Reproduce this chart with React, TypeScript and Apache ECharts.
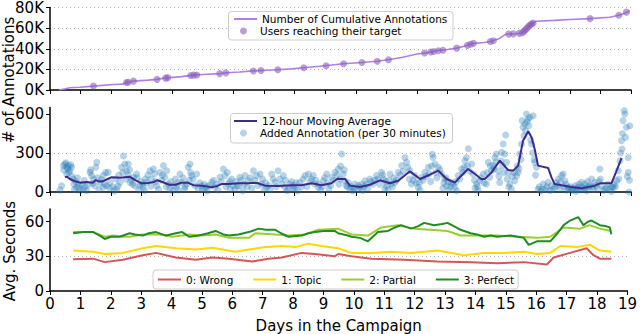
import React, { useEffect, useRef } from "react";
import * as echarts from "echarts";

const cumulativeAnnotations: number[][] = [
  [0.3, 0], [0.5, 1200], [0.65, 2200], [0.98, 2700], [1.42, 3800], [2.07, 5300], [2.4, 5700], [2.5, 7300],
  [2.73, 8600], [3.2, 9600], [3.49, 10300], [3.82, 11800], [4.3, 13000], [4.69, 14400], [5.0, 15000],
  [5.56, 15900], [5.78, 16800], [6.2, 17500], [6.65, 18500], [7.41, 19700], [7.9, 20500], [8.28, 21600],
  [8.83, 23100], [9.6, 25400], [10.2, 26700], [10.7, 27900], [11.1, 29500], [11.5, 31500], [12.0, 34900],
  [12.3, 36000], [12.65, 38000], [13.0, 39300], [13.3, 40600], [13.6, 43000], [13.8, 45000], [14.2, 46000],
  [14.4, 47000], [14.7, 50000], [14.9, 54000], [15.2, 54500], [15.4, 55000], [15.6, 60000], [15.8, 65000],
  [15.9, 66700], [16.5, 67500], [17.0, 68300], [17.66, 69200], [18.3, 70500], [18.6, 72400], [18.8, 74500],
  [18.96, 76800],
];

const usersReachingTarget: number[][] = [
  [1.42, 3800], [2.5, 7300], [2.56, 7600], [2.73, 8600], [3.5, 10300], [3.78, 11500], [3.85, 12000],
  [4.6, 14000], [4.7, 14400], [4.8, 14600], [5.55, 15900], [5.75, 16600], [6.65, 18500], [6.9, 18900],
  [7.45, 19700], [8.3, 21600], [9.03, 23600], [9.6, 25400], [10.2, 26700], [10.7, 27900], [11.07, 29300],
  [12.25, 35800], [12.45, 36800], [12.55, 37400], [12.7, 38100], [12.85, 38600], [13.3, 40600],
  [13.65, 43300], [13.75, 44300], [13.85, 45300], [14.4, 47000], [14.5, 47700], [15.0, 54200],
  [15.15, 54400], [15.35, 54900], [15.45, 55500], [15.5, 57000], [15.55, 58500], [15.6, 60000],
  [15.65, 61500], [15.7, 63000], [15.75, 64000], [15.8, 65000], [17.66, 69200], [18.6, 72400], [18.85, 75500],
];

const movingAverage: number[][] = [
  [0.49, 113], [0.55, 118], [0.65, 100], [0.82, 82], [0.98, 72], [1.2, 77], [1.4, 72], [1.5, 92], [1.6, 80],
  [1.72, 82], [1.88, 100], [2.0, 113], [2.3, 110], [2.6, 118], [2.8, 90], [3.0, 67], [3.2, 70], [3.4, 77],
  [3.5, 90], [3.7, 75], [3.9, 56], [4.1, 56], [4.3, 72], [4.5, 72], [4.7, 52], [4.96, 49], [5.29, 36],
  [5.45, 45], [5.61, 61], [5.83, 61], [6.16, 67], [6.49, 67], [6.65, 72], [6.81, 67], [7.03, 49], [7.46, 47],
  [7.9, 52], [8.22, 52], [8.55, 67], [8.88, 52], [9.2, 67], [9.4, 102], [9.65, 100], [9.81, 49], [10.14, 39],
  [10.46, 56], [10.79, 90], [11.12, 67], [11.39, 87], [11.77, 159], [12.1, 100], [12.42, 133], [12.7, 164],
  [12.97, 100], [13.24, 72], [13.4, 113], [13.67, 177], [13.9, 138], [14.1, 100], [14.22, 100], [14.44, 151],
  [14.71, 241], [14.98, 169], [15.15, 164], [15.31, 203], [15.47, 395], [15.64, 467], [15.75, 420],
  [15.85, 331], [15.96, 203], [16.29, 185], [16.4, 113], [16.5, 62], [16.73, 52], [17.05, 39], [17.38, 28],
  [17.6, 39], [17.82, 49], [17.98, 67], [18.36, 67], [18.53, 164], [18.69, 261],
];

const addedAnnotations: number[][] = [
  [0.33, 15], [0.38, 48], [0.44, 203], [0.49, 216], [0.55, 190], [0.55, 138], [0.6, 203], [0.65, 164],
  [0.71, 190], [0.76, 100], [0.8, 20], [0.87, 36], [0.93, 61], [1.0, 12], [1.09, 23], [1.15, 40], [1.2, 10],
  [1.31, 151], [1.36, 126], [1.42, 100], [1.47, 48], [1.53, 228], [1.6, 18], [1.64, 74], [1.74, 126],
  [1.74, 36], [1.85, 48], [1.9, 151], [1.96, 74], [2.1, 8], [2.18, 23], [2.22, 45], [2.29, 74], [2.34, 190],
  [2.4, 277], [2.45, 216], [2.5, 164], [2.56, 216], [2.56, 126], [2.62, 74], [2.73, 113], [2.78, 48],
  [2.83, 138], [2.9, 15], [2.94, 48], [3.05, 36], [3.1, 12], [3.16, 74], [3.27, 164], [3.32, 100], [3.38, 177],
  [3.49, 48], [3.55, 20], [3.6, 151], [3.71, 203], [3.76, 113], [3.82, 164], [3.87, 61], [3.92, 23], [4.0, 10],
  [4.14, 36], [4.2, 15], [4.25, 138], [4.31, 74], [4.4, 25], [4.47, 61], [4.52, 190], [4.58, 216], [4.63, 126],
  [4.74, 48], [4.8, 138], [4.85, 23], [4.96, 48], [5.07, 23], [5.15, 8], [5.22, 50], [5.29, 74], [5.39, 36],
  [5.5, 15], [5.56, 113], [5.67, 177], [5.72, 126], [5.83, 61], [5.9, 20], [5.94, 100], [6.05, 23], [6.12, 45],
  [6.21, 113], [6.3, 10], [6.38, 126], [6.48, 87], [6.6, 30], [6.65, 164], [6.76, 126], [6.87, 138], [6.92, 61],
  [7.0, 15], [7.08, 36], [7.2, 20], [7.25, 138], [7.36, 74], [7.46, 164], [7.52, 100], [7.63, 126], [7.68, 36],
  [7.75, 12], [7.85, 61], [7.95, 30], [8.01, 23], [8.1, 10], [8.17, 74], [8.34, 126], [8.4, 40], [8.45, 138],
  [8.55, 100], [8.61, 126], [8.66, 61], [8.77, 36], [8.85, 15], [8.94, 87], [9.05, 138], [9.12, 25],
  [9.21, 113], [9.32, 151], [9.43, 177], [9.48, 100], [9.54, 292], [9.59, 138], [9.64, 87], [9.72, 40],
  [9.81, 23], [9.9, 10], [9.97, 61], [10.05, 20], [10.13, 36], [10.22, 12], [10.3, 87], [10.4, 30],
  [10.46, 100], [10.57, 61], [10.68, 126], [10.84, 151], [10.9, 100], [10.95, 25], [11.0, 48], [11.05, 15],
  [11.12, 138], [11.2, 40], [11.28, 74], [11.39, 151], [11.5, 203], [11.61, 266], [11.66, 228], [11.77, 164],
  [11.82, 61], [11.93, 126], [12.04, 36], [12.1, 15], [12.15, 113], [12.26, 151], [12.37, 190], [12.45, 80],
  [12.5, 290], [12.53, 266], [12.59, 216], [12.7, 190], [12.8, 138], [12.85, 30], [12.91, 100], [12.97, 48],
  [13.05, 15], [13.13, 74], [13.24, 36], [13.3, 10], [13.35, 126], [13.46, 177], [13.57, 241], [13.62, 266],
  [13.68, 333], [13.79, 216], [13.84, 138], [13.9, 30], [13.95, 61], [14.0, 12], [14.06, 87], [14.17, 138],
  [14.27, 61], [14.33, 228], [14.38, 113], [14.44, 164], [14.49, 203], [14.55, 266], [14.6, 292], [14.66, 164],
  [14.71, 74], [14.77, 305], [14.82, 369], [14.87, 292], [14.9, 438], [14.93, 228], [14.98, 151], [15.04, 61],
  [15.09, 23], [15.2, 87], [15.26, 126], [15.31, 151], [15.36, 292], [15.42, 369], [15.44, 549], [15.47, 498],
  [15.53, 523], [15.58, 600], [15.64, 562], [15.69, 575], [15.75, 369], [15.8, 587], [15.85, 228], [15.91, 190],
  [15.96, 23], [16.05, 8], [16.13, 61], [16.2, 20], [16.29, 74], [16.35, 12], [16.4, 48], [16.51, 36],
  [16.62, 100], [16.68, 25], [16.73, 126], [16.78, 138], [16.84, 87], [16.9, 15], [16.95, 36], [17.05, 10],
  [17.12, 30], [17.2, 5], [17.27, 36], [17.33, 15], [17.38, 74], [17.45, 25], [17.49, 61], [17.55, 10],
  [17.62, 40], [17.71, 100], [17.77, 20], [17.82, 74], [17.9, 30], [17.98, 177], [18.04, 48], [18.1, 12],
  [18.2, 30], [18.31, 23], [18.36, 5], [18.42, 36], [18.53, 87], [18.58, 164], [18.64, 241], [18.69, 395],
  [18.71, 331], [18.74, 549], [18.78, 626], [18.8, 600], [18.85, 498], [18.91, 266], [18.91, 151], [18.93, 0],
  [18.96, 510],
  [0.45, 170], [0.52, 225], [0.58, 180], [0.62, 150], [0.68, 210], [0.72, 120], [0.78, 60], [0.85, 80],
  [0.9, 110], [0.95, 30], [1.05, 60], [1.12, 90], [1.25, 55], [1.33, 170], [1.4, 65], [1.5, 190], [1.55, 110],
  [1.68, 95], [1.78, 60], [1.82, 150], [1.95, 30], [2.05, 40], [2.15, 100], [2.25, 130], [2.38, 150],
  [2.48, 100], [2.6, 170], [2.67, 90], [2.7, 60], [2.85, 110], [2.98, 80], [3.02, 60], [3.12, 100], [3.2, 130],
  [3.3, 45], [3.42, 140], [3.45, 80], [3.65, 90], [3.68, 130], [3.8, 40], [3.95, 80], [4.05, 50], [4.1, 100],
  [4.18, 70], [4.35, 110], [4.42, 40], [4.55, 90], [4.6, 150], [4.68, 100], [4.9, 70], [4.98, 20], [5.05, 60],
  [5.12, 40], [5.35, 90], [5.45, 60], [5.6, 80], [5.75, 40], [5.8, 150], [5.88, 80], [5.98, 50], [6.08, 80],
  [6.18, 50], [6.25, 90], [6.35, 60], [6.45, 40], [6.55, 110], [6.7, 90], [6.8, 50], [6.95, 100], [7.05, 70],
  [7.15, 50], [7.3, 100], [7.4, 40], [7.58, 60], [7.7, 90], [7.8, 30], [7.9, 80], [7.98, 50], [8.05, 70],
  [8.22, 40], [8.28, 100], [8.5, 80], [8.7, 90], [8.8, 60], [8.9, 40], [8.98, 110], [9.08, 70], [9.18, 50],
  [9.27, 90], [9.38, 130], [9.45, 60], [9.5, 200], [9.62, 170], [9.68, 50], [9.76, 70], [9.85, 40], [9.95, 30],
  [10.08, 50], [10.18, 60], [10.26, 40], [10.35, 60], [10.5, 80], [10.62, 90], [10.72, 100], [10.78, 60],
  [10.88, 130], [10.98, 80], [11.08, 90], [11.15, 60], [11.25, 110], [11.33, 90], [11.45, 130], [11.55, 160],
  [11.7, 190], [11.75, 100], [11.88, 90], [11.98, 70], [12.08, 70], [12.2, 90], [12.3, 120], [12.4, 140],
  [12.48, 200], [12.62, 150], [12.65, 110], [12.75, 170], [12.88, 70], [12.95, 110], [13.02, 80], [13.1, 40],
  [13.18, 60], [13.28, 80], [13.4, 100], [13.5, 150], [13.55, 190], [13.65, 200], [13.72, 160], [13.88, 90],
  [13.98, 40], [14.1, 110], [14.2, 70], [14.3, 150], [14.4, 200], [14.52, 180], [14.58, 230], [14.68, 120],
  [14.75, 240], [14.8, 200], [14.85, 150], [14.95, 100], [15.0, 40], [15.12, 120], [15.18, 150], [15.28, 200],
  [15.33, 180], [15.4, 250], [15.5, 430], [15.55, 470], [15.6, 540], [15.66, 510], [15.72, 400], [15.78, 300],
  [15.83, 250], [15.88, 130], [16.0, 40], [16.1, 20], [16.25, 40], [16.45, 20], [16.55, 70], [16.6, 50],
  [16.7, 80], [16.8, 40], [16.88, 60], [16.98, 20], [17.02, 40], [17.1, 20], [17.18, 50], [17.25, 20],
  [17.3, 60], [17.4, 40], [17.5, 30], [17.58, 80], [17.65, 50], [17.72, 40], [17.85, 50], [17.95, 80],
  [18.0, 100], [18.15, 20], [18.25, 60], [18.38, 40], [18.45, 60], [18.5, 40], [18.6, 100], [18.66, 300],
  [18.72, 450], [18.82, 420], [18.88, 120], [18.95, 90],
];

const secondsWrong: number[][] = [
  [0.76, 27.5], [1.42, 28], [1.8, 25], [2.4, 27], [3.05, 31], [3.49, 33], [4.14, 29], [4.8, 27], [5.34, 29],
  [5.89, 28], [6.65, 25.5], [7.19, 28], [7.63, 29], [8.28, 33], [8.72, 32], [9.37, 30], [9.48, 32], [9.92, 30],
  [10.57, 28], [11.66, 27], [12.75, 25.5], [13.84, 25], [14.71, 24], [15.59, 25], [16.35, 23], [16.57, 29],
  [17.11, 33], [17.66, 37], [17.88, 31], [18.09, 28], [18.47, 28],
];
const secondsTopic: number[][] = [
  [0.76, 35], [1.42, 34], [1.8, 32], [2.4, 33], [3.05, 37], [3.49, 39], [4.14, 37], [4.8, 36], [5.34, 37.5],
  [6.1, 34], [6.54, 36], [7.1, 38], [7.63, 39], [8.07, 38], [8.5, 41], [8.94, 39], [9.48, 37], [9.92, 33],
  [10.57, 33], [11.23, 34], [11.88, 33], [12.75, 35], [13.62, 31], [14.28, 33], [14.93, 33], [15.59, 34],
  [16.02, 32], [16.46, 33], [16.79, 39], [17.33, 38], [17.77, 40], [18.09, 35], [18.47, 34],
];
const secondsPartial: number[][] = [
  [0.76, 51], [1.1, 51], [1.42, 51], [1.8, 47], [2.1, 48], [2.4, 47], [2.62, 47], [3.05, 49], [3.6, 49],
  [4.03, 47], [4.58, 49], [5.0, 48], [5.45, 49], [5.89, 46], [6.54, 46], [6.76, 50], [7.41, 49], [7.85, 48],
  [8.4, 49], [8.83, 53], [9.48, 54], [9.92, 49], [10.46, 48], [10.9, 55], [11.45, 57], [11.98, 54], [12.53, 53],
  [13.08, 52], [13.51, 48], [14.06, 48], [14.71, 48], [15.37, 47], [16.02, 46], [16.46, 47], [16.9, 55],
  [17.44, 54], [17.75, 57], [18.09, 54], [18.47, 52],
];
const secondsPerfect: number[][] = [
  [0.76, 50], [1.1, 51], [1.42, 51], [1.64, 48], [1.8, 45], [2.0, 47], [2.29, 47], [2.62, 50], [2.8, 49],
  [3.05, 48], [3.25, 50], [3.49, 51], [3.7, 49], [3.82, 48], [4.14, 50], [4.35, 51], [4.58, 47], [4.9, 48],
  [5.2, 50], [5.45, 52], [5.7, 49], [5.89, 48], [6.2, 49], [6.54, 51], [6.87, 54], [7.1, 53], [7.41, 53],
  [7.6, 50], [7.85, 47], [8.28, 48], [8.5, 50], [8.72, 51], [9.0, 52], [9.37, 52], [9.48, 50], [9.8, 48],
  [9.92, 47], [10.2, 46], [10.46, 43], [10.79, 51], [11.12, 52], [11.35, 55], [11.55, 57], [11.88, 54],
  [12.1, 56], [12.31, 59], [12.64, 57], [12.9, 58], [13.08, 59], [13.3, 56], [13.51, 53], [13.84, 50],
  [14.05, 49], [14.28, 47], [14.5, 48], [14.71, 47], [15.15, 48], [15.4, 47], [15.59, 46], [15.75, 40],
  [16.02, 43], [16.46, 43], [16.7, 50], [16.9, 57], [17.11, 61], [17.38, 64], [17.55, 57], [17.7, 60],
  [17.82, 61], [18.09, 57], [18.31, 56], [18.42, 55], [18.47, 49],
];

const countTicks = [0, 20000, 40000, 60000, 80000];
const addedTicks = [0, 300, 600];
const secondsTicks = [0, 30, 60];

const FONT = "DejaVu Sans";

export default function App() {
  const ref = useRef<HTMLDivElement>(null);
  useEffect(() => {
    if (!ref.current) return;
    const chart = echarts.init(ref.current, null, { renderer: "svg" });
    const grids = [
      { left: 50, top: 6, width: 581, height: 84 },
      { left: 50, top: 107.5, width: 581, height: 84.5 },
      { left: 50, top: 209, width: 581, height: 85 },
    ];
    const axisLine = { show: true, lineStyle: { color: "#000", width: 1.5 } };
    const splitLine = { show: true, lineStyle: { color: "#b0b0b0", type: [1, 3] as any, width: 1 } };
    const xAxes = grids.map((_, i) => ({
      type: "value",
      gridIndex: i,
      min: 0,
      max: 19,
      interval: 1,
      axisLine,
      axisTick: { show: true, length: 4, lineStyle: { color: "#000", width: 1 } },
      axisLabel: { show: i === 2, fontSize: 15, color: "#000", fontFamily: FONT, margin: 5 },
      splitLine: { show: false },
      name: i === 2 ? "Days in the Campaign" : "",
      nameLocation: "middle",
      nameGap: 27,
      nameTextStyle: { fontSize: 15, color: "#000", fontFamily: FONT },
    }));
    const yCommon = (i: number, max: number, interval: number, ticks: number[], fmt: (v: number) => string) => ({
      type: "value",
      gridIndex: i,
      min: 0,
      max,
      interval,
      axisLine,
      axisTick: { show: true, length: 4, customValues: ticks, lineStyle: { color: "#000" } },
      axisLabel: {
        fontSize: 15,
        color: "#000",
        fontFamily: FONT,
        margin: 6,
        customValues: ticks,
        formatter: (v: number) => fmt(v),
      },
      splitLine: { ...splitLine, showMinLine: false, showMaxLine: max === ticks[ticks.length - 1] },
    });
    const legendText = { fontSize: 10.5, color: "#000", fontFamily: FONT, lineHeight: 12 };
    const lineLegend = (name: string, left: number, top: number) => ({
      left,
      top,
      orient: "vertical",
      padding: 0,
      itemWidth: 23,
      itemHeight: 0.5,
      textStyle: legendText,
      data: [name],
    });
    const dotLegend = (name: string, left: number, top: number) => ({
      left,
      top,
      orient: "vertical",
      padding: 0,
      itemWidth: 23,
      itemHeight: 7,
      textStyle: legendText,
      data: [{ name, icon: "circle" }],
    });
    const box = (x: number, y: number, width: number, height: number) => ({
      type: "rect",
      z: 3,
      shape: { x, y, width, height, r: 3 },
      style: { fill: "rgba(255,255,255,0.8)", stroke: "#cccccc", lineWidth: 1 },
    });
    chart.setOption({
      animation: false,
      textStyle: { fontFamily: FONT },
      grid: grids,
      xAxis: xAxes,
      yAxis: [
        yCommon(0, 80000, 20000, countTicks, (v) => `${v / 1000}K`),
        yCommon(1, 650, 300, addedTicks, (v) => `${v}`),
        yCommon(2, 71, 30, secondsTicks, (v) => `${v}`),
      ],
      legend: [
        lineLegend("Number of Cumulative Annotations", 233, 13),
        dotLegend("Users reaching their target", 240, 25),
        lineLegend("12-hour Moving Average", 233, 115),
        dotLegend("Added Annotation (per 30 minutes)", 240, 127),
        {
          left: 153,
          top: 270,
          orient: "horizontal",
          padding: [3.5, 4, 3.5, 4],
          itemGap: 19,
          itemWidth: 23,
          itemHeight: 0.5,
          textStyle: legendText,
          backgroundColor: "rgba(255,255,255,0.8)",
          borderColor: "#cccccc",
          borderWidth: 1,
          borderRadius: 3,
          data: ["0: Wrong", "1: Topic", "2: Partial", "3: Perfect"],
        },
      ],
      graphic: [
        box(228.5, 11.5, 224.5, 28.5),
        box(230.5, 113.5, 222, 29.5),
        {
          type: "text",
          x: 9,
          y: 80,
          rotation: Math.PI / 2,
          style: {
            text: "# of Annotations",
            fontSize: 15,
            fontFamily: FONT,
            fill: "#000",
            align: "center",
            verticalAlign: "middle",
            textAlign: "center",
            textVerticalAlign: "middle",
          },
        },
        {
          type: "text",
          x: 10,
          y: 251,
          rotation: Math.PI / 2,
          style: {
            text: "Avg. Seconds",
            fontSize: 15,
            fontFamily: FONT,
            fill: "#000",
            align: "center",
            verticalAlign: "middle",
            textAlign: "center",
            textVerticalAlign: "middle",
          },
        },
      ],
      series: [
        {
          name: "Number of Cumulative Annotations",
          type: "line",
          xAxisIndex: 0,
          yAxisIndex: 0,
          data: cumulativeAnnotations,
          symbol: "none",
          lineStyle: { color: "#b27fe3", width: 1.6 },
          itemStyle: { color: "#b27fe3" },
          z: 2,
        },
        {
          name: "Users reaching their target",
          type: "scatter",
          xAxisIndex: 0,
          yAxisIndex: 0,
          data: usersReachingTarget,
          symbolSize: 7,
          itemStyle: { color: "#8a5fbd", opacity: 0.6 },
          z: 3,
        },
        {
          name: "Added Annotation (per 30 minutes)",
          type: "scatter",
          xAxisIndex: 1,
          yAxisIndex: 1,
          data: addedAnnotations,
          symbolSize: 7,
          clip: false,
          itemStyle: { color: "#1f77b4", opacity: 0.32 },
          z: 2,
        },
        {
          name: "12-hour Moving Average",
          type: "line",
          xAxisIndex: 1,
          yAxisIndex: 1,
          data: movingAverage,
          symbol: "none",
          lineStyle: { color: "#3b2c8c", width: 2 },
          itemStyle: { color: "#3b2c8c" },
          z: 3,
        },
        {
          name: "0: Wrong",
          type: "line",
          xAxisIndex: 2,
          yAxisIndex: 2,
          data: secondsWrong,
          symbol: "none",
          lineStyle: { color: "#d65656", width: 2 },
          itemStyle: { color: "#d65656" },
        },
        {
          name: "1: Topic",
          type: "line",
          xAxisIndex: 2,
          yAxisIndex: 2,
          data: secondsTopic,
          symbol: "none",
          lineStyle: { color: "#ffd700", width: 2 },
          itemStyle: { color: "#ffd700" },
        },
        {
          name: "2: Partial",
          type: "line",
          xAxisIndex: 2,
          yAxisIndex: 2,
          data: secondsPartial,
          symbol: "none",
          lineStyle: { color: "#9acd32", width: 2 },
          itemStyle: { color: "#9acd32" },
        },
        {
          name: "3: Perfect",
          type: "line",
          xAxisIndex: 2,
          yAxisIndex: 2,
          data: secondsPerfect,
          symbol: "none",
          lineStyle: { color: "#228b22", width: 2 },
          itemStyle: { color: "#228b22" },
        },
      ],
    });
    return () => chart.dispose();
  }, []);
  return <div ref={ref} style={{ width: 640, height: 334, position: "absolute", left: 0, top: 0 }} />;
}
